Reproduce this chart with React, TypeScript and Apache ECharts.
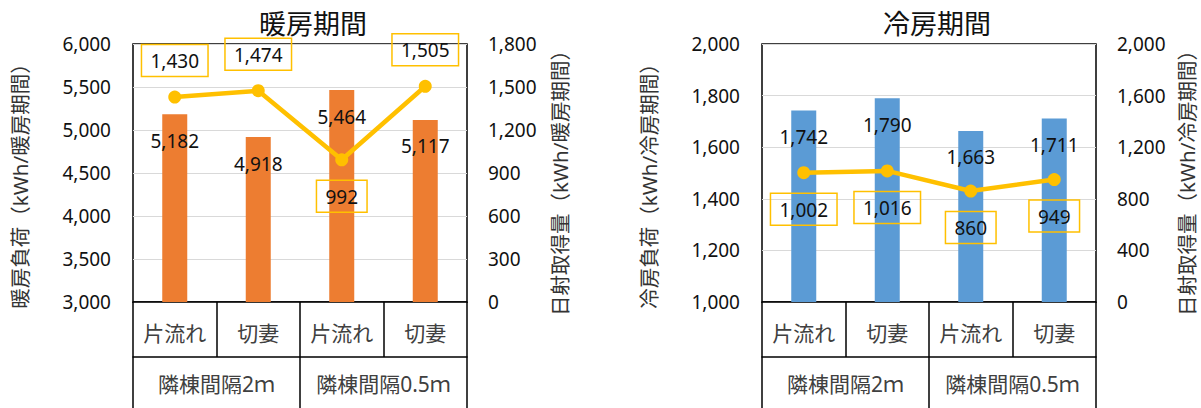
import React, { useEffect, useRef } from "react";
import * as echarts from "echarts";

const categories = ["片流れ", "切妻", "片流れ", "切妻"];
const groups = ["隣棟間隔2ｍ", "隣棟間隔0.5ｍ"];

const heatingLoad = [5182, 4918, 5464, 5117];
const heatingSolar = [1430, 1474, 992, 1505];
const coolingLoad = [1742, 1790, 1663, 1711];
const coolingSolar = [1002, 1016, 860, 949];

const heatingLoadTicks = { min: 3000, max: 6000, interval: 500 };
const heatingSolarTicks = { min: 0, max: 1800, interval: 300 };
const coolingLoadTicks = { min: 1000, max: 2000, interval: 200 };
const coolingSolarTicks = { min: 0, max: 2000, interval: 400 };

const heatingSolarLabelPos = ["top", "top", "bottom", "top"];
const coolingSolarLabelPos = ["bottom", "bottom", "bottom", "bottom"];

const FONT = "Noto Sans, Noto Sans CJK JP, sans-serif";
const fmt = (v: number) => v.toLocaleString("en-US");

function panel(
  gi: number,
  left: number,
  barColor: string,
  loads: number[],
  solar: number[],
  solarPos: string[],
  lt: { min: number; max: number; interval: number },
  rt: { min: number; max: number; interval: number }
) {
  const grid = { left, top: 44, width: 334, height: 258, show: true, borderColor: "#000", borderWidth: 1.5 };
  const xAxes = [
    {
      type: "category",
      gridIndex: gi,
      data: categories,
      position: "bottom",
      axisLine: { show: true, lineStyle: { color: "#000", width: 1.5 } },
      axisTick: { show: true, length: 55, interval: 0, lineStyle: { color: "#000", width: 1.5 } },
      axisLabel: { interval: 0, margin: 20, fontSize: 21, color: "#404040", fontFamily: FONT },
      splitLine: { show: false },
    },
    {
      type: "category",
      gridIndex: gi,
      data: groups,
      position: "bottom",
      offset: 55,
      axisLine: { show: true, lineStyle: { color: "#000", width: 1.5 } },
      axisTick: { show: true, length: 70, interval: 0, lineStyle: { color: "#000", width: 1.5 } },
      axisLabel: { interval: 0, margin: 16, fontSize: 21, color: "#404040", fontFamily: FONT },
      splitLine: { show: false },
    },
  ];
  const yAxes = [
    {
      type: "value",
      gridIndex: gi,
      position: "left",
      min: lt.min,
      max: lt.max,
      interval: lt.interval,
      axisLine: { show: false },
      axisTick: { show: false },
      axisLabel: { margin: 22, fontSize: 19, color: "#111", fontFamily: FONT, formatter: (v: number) => fmt(v) },
      splitLine: { show: true, lineStyle: { color: "#D9D9D9", width: 1 } },
    },
    {
      type: "value",
      gridIndex: gi,
      position: "right",
      min: rt.min,
      max: rt.max,
      interval: rt.interval,
      axisLine: { show: false },
      axisTick: { show: false },
      axisLabel: { margin: 21, fontSize: 19, color: "#111", fontFamily: FONT, formatter: (v: number) => fmt(v) },
      splitLine: { show: false },
    },
  ];
  const series = [
    {
      type: "bar",
      xAxisIndex: gi * 2,
      yAxisIndex: gi * 2,
      data: loads,
      barWidth: 25,
      itemStyle: { color: barColor },
      label: {
        show: true,
        position: "insideTop",
        distance: 17,
        fontSize: 19,
        color: "#111",
        fontFamily: FONT,
        formatter: (p: any) => fmt(p.value),
      },
      z: 2,
    },
    {
      type: "line",
      xAxisIndex: gi * 2,
      yAxisIndex: gi * 2 + 1,
      data: solar.map((v, i) => ({ value: v, label: { position: solarPos[i] } })),
      symbol: "circle",
      symbolSize: 13,
      lineStyle: { color: "#FFC000", width: 4.5 },
      itemStyle: { color: "#FFC000" },
      label: {
        show: true,
        distance: 14,
        fontSize: 19,
        color: "#111",
        fontFamily: FONT,
        borderColor: "#FFC000",
        borderWidth: 1.5,
        padding: [5, 9, 4, 9],
        lineHeight: 23,
        formatter: (p: any) => fmt(p.value),
      },
      z: 3,
    },
  ];
  return { grid, xAxes, yAxes, series };
}

function vText(text: string, x: number, y: number, size: number) {
  return {
    type: "text",
    x,
    y,
    rotation: Math.PI / 2,
    style: {
      text,
      x: 0,
      y: 0,
      align: "center",
      verticalAlign: "middle",
      fontSize: size,
      fill: "#333",
      fontFamily: FONT,
    },
  };
}

function hText(text: string, x: number, y: number, size: number) {
  return {
    type: "text",
    x,
    y,
    style: {
      text,
      x: 0,
      y: 0,
      align: "center",
      verticalAlign: "middle",
      fontSize: size,
      fill: "#111",
      fontFamily: FONT,
    },
  };
}

export default function App() {
  const ref = useRef<HTMLDivElement>(null);
  useEffect(() => {
    if (!ref.current) return;
    const chart = echarts.init(ref.current, undefined, { renderer: "svg" });
    const a = panel(0, 133, "#ED7D31", heatingLoad, heatingSolar, heatingSolarLabelPos, heatingLoadTicks, heatingSolarTicks);
    const b = panel(1, 762, "#5B9BD5", coolingLoad, coolingSolar, coolingSolarLabelPos, coolingLoadTicks, coolingSolarTicks);
    chart.setOption({
      animation: false,
      backgroundColor: "#fff",
      textStyle: { fontFamily: FONT },
      grid: [a.grid, b.grid],
      xAxis: [...a.xAxes, ...b.xAxes],
      yAxis: [...a.yAxes, ...b.yAxes],
      series: [...a.series, ...b.series],
      graphic: [
        hText("暖房期間", 313, 23, 27),
        hText("冷房期間", 937, 23, 27),
        vText("暖房負荷（kWh/暖房期間）", 20, 181, 20.5),
        vText("日射取得量（kWh/暖房期間）", 560, 178, 20.5),
        vText("冷房負荷（kWh/冷房期間）", 649, 181, 20.5),
        vText("日射取得量（kWh/冷房期間）", 1187, 178, 20.5),
      ],
    });
    return () => chart.dispose();
  }, []);
  return (
    <div
      ref={ref}
      style={{ position: "absolute", left: 0, top: 0, width: 1201, height: 408 }}
    />
  );
}
